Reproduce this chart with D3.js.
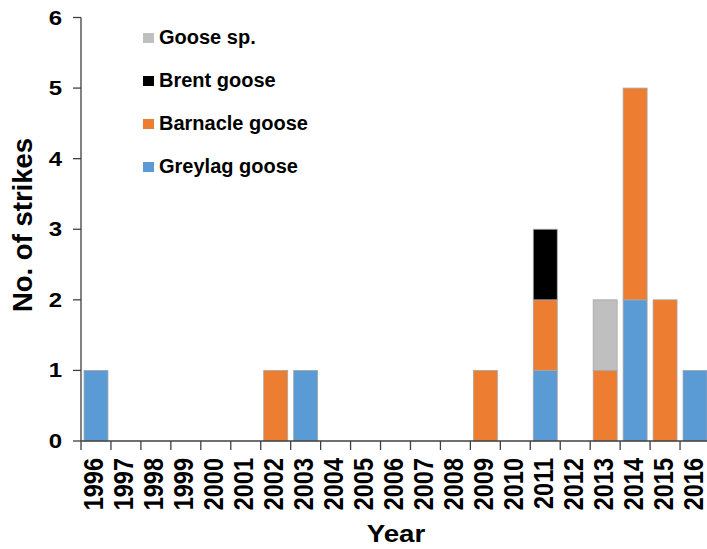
<!DOCTYPE html>
<html><head><meta charset="utf-8">
<script src="https://cdn.jsdelivr.net/npm/d3@7"></script>
<style>body{margin:0;background:#fff}svg{display:block}text{font-family:"Liberation Sans",Arial,sans-serif;font-weight:bold;fill:#000}</style>
</head><body>
<svg id="c" width="707" height="549"></svg>
<script>
const years = ["1996","1997","1998","1999","2000","2001","2002","2003","2004","2005","2006","2007","2008","2009","2010","2011","2012","2013","2014","2015","2016"];
const greylag  = [1,0,0,0,0,0,0,1,0,0,0,0,0,0,0,1,0,0,2,0,1];
const barnacle = [0,0,0,0,0,0,1,0,0,0,0,0,0,1,0,1,0,1,3,2,0];
const brent    = [0,0,0,0,0,0,0,0,0,0,0,0,0,0,0,1,0,0,0,0,0];
const gooseSp  = [0,0,0,0,0,0,0,0,0,0,0,0,0,0,0,0,0,1,0,0,0];
const seriesNames = ["Greylag goose","Barnacle goose","Brent goose","Goose sp."];
const seriesColors = ["#5B9BD5","#ED7D31","#000000","#BFBFBF"];
const yTicks = [0,1,2,3,4,5,6];
const legendOrder = ["Goose sp.","Brent goose","Barnacle goose","Greylag goose"];

const svg = d3.select("#c");
const x = d3.scaleBand().domain(years).range([81, 710]).paddingInner(0.2).paddingOuter(0.1);
const y = d3.scaleLinear().domain([0, 6]).range([441, 17.5]);

const rows = years.map((yr, i) => ({year: yr, "Greylag goose": greylag[i], "Barnacle goose": barnacle[i], "Brent goose": brent[i], "Goose sp.": gooseSp[i]}));
const stack = d3.stack().keys(seriesNames)(rows);
const color = d3.scaleOrdinal().domain(seriesNames).range(seriesColors);

svg.append("g").selectAll("g").data(stack).join("g")
  .attr("fill", d => color(d.key))
  .selectAll("rect").data(d => d.filter(p => p[1] > p[0])).join("rect")
  .attr("x", d => x(d.data.year))
  .attr("width", x.bandwidth())
  .attr("y", d => y(d[1]))
  .attr("height", d => y(d[0]) - y(d[1]))
  .attr("stroke", "#a6a6a6").attr("stroke-width", 0.8);

const axisColor = "#404040";
// y axis
svg.append("line").attr("x1", 81).attr("x2", 81).attr("y1", y(6)).attr("y2", y(0)).attr("stroke", axisColor).attr("stroke-width", 1.3);
const yt = svg.append("g").selectAll("g").data(yTicks).join("g");
yt.append("line").attr("x1", 73).attr("x2", 81).attr("y1", d => y(d)).attr("y2", d => y(d)).attr("stroke", axisColor).attr("stroke-width", 1.3);
yt.append("text").attr("transform", d => `translate(62,${y(d) + 7}) scale(1.2,1)`)
  .attr("text-anchor", "end").attr("font-size", 20).text(d => d);

// x axis
svg.append("line").attr("x1", 81).attr("x2", 711).attr("y1", y(0)).attr("y2", y(0)).attr("stroke", axisColor).attr("stroke-width", 1.3);
const half = (x.step() - x.bandwidth()) / 2;
const bounds = years.map(yr => x(yr) - half).concat([x(years[years.length-1]) + x.bandwidth() + half]);
svg.append("g").selectAll("line").data(bounds).join("line")
  .attr("x1", d => d).attr("x2", d => d).attr("y1", y(0)).attr("y2", y(0) + 9)
  .attr("stroke", axisColor).attr("stroke-width", 1.3);
svg.append("g").selectAll("text").data(years).join("text")
  .attr("transform", d => `translate(${x(d) + x.bandwidth()/2 + 7.5},458) scale(1.15,1) rotate(-90)`)
  .attr("text-anchor", "end").attr("font-size", 23.5).text(d => d);

// axis titles
svg.append("text").attr("transform", `translate(396,542) scale(1.17,1)`).attr("text-anchor", "middle").attr("font-size", 23.7).text("Year");
svg.append("text").attr("transform", `translate(32,225) rotate(-90)`).attr("text-anchor", "middle").attr("font-size", 27.5).text("No. of strikes");

// legend
const lg = svg.append("g").selectAll("g").data(legendOrder).join("g")
  .attr("transform", (d, i) => `translate(143,${44 + i * 43})`);
lg.append("rect").attr("x", 0).attr("y", -11).attr("width", 11).attr("height", 10).attr("fill", d => color(d));
lg.append("text").attr("x", 16).attr("y", 0).attr("font-size", 20).text(d => d);
</script>
</body></html>
